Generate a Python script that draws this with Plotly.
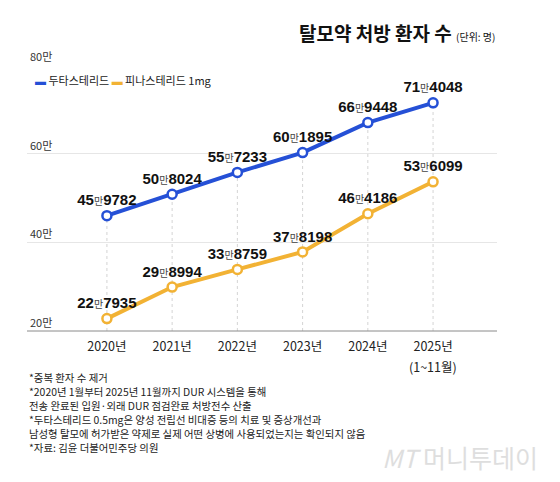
import plotly.graph_objects as go

years = ['2020년', '2021년', '2022년', '2023년', '2024년', '2025년']
last_period = '(1~11월)'
dutasteride = [459782, 508024, 557233, 601895, 669448, 714048]
finasteride = [227935, 298994, 338759, 378198, 464186, 536099]
y_ticks = [200000, 400000, 600000, 800000]
y_ticktext = ['20만', '40만', '60만', '80만']

notes = [
    '*중복 환자 수 제거',
    '*2020년 1월부터 2025년 11월까지 DUR 시스템을 통해',
    '전송 완료된 입원·외래 DUR 점검완료 처방전수 산출',
    '*두타스테리드 0.5mg은 양성 전립선 비대증 등의 치료 및 증상개선과',
    '남성형 탈모에 허가받은 약제로 실제 어떤 상병에 사용되었는지는 확인되지 않음',
    '*자료: 김윤 더불어민주당 의원',
]

BLUE = '#2550d6'
ORANGE = '#f2b234'
KR = 'Noto Sans CJK KR'
NUM = 'Liberation Sans Narrow, Liberation Sans, Arial, ' + KR

# page body has an 8px margin, so the figure is 8px smaller
W, H = 552, 474
L, R, T, B = 19, 63, 56, 151
ph = 267


def py(p):
    # reference pixel row -> paper y
    return (331 - p) / ph


def px(p):
    return (p - 27) / 470


def label(v):
    man, rest = divmod(v, 10000)
    return ("<b>%d</b><span style='font-size:10px;color:#444'>만</span><b>%04d</b>"
            % (man, rest))


xs = list(range(len(years)))

fig = go.Figure()

# dotted guide lines from the axis up to the top series
gx, gy = [], []
for i, v in zip(xs, dutasteride):
    gx += [i, i, None]
    gy += [y_ticks[0], v, None]
fig.add_trace(go.Scatter(x=gx, y=gy, mode='lines', hoverinfo='skip',
                         line=dict(color='#d4d4d4', width=1, dash='dot')))

for name, vals, col in [('두타스테리드', dutasteride, BLUE),
                        ('피나스테리드 1mg', finasteride, ORANGE)]:
    fig.add_trace(go.Scatter(
        x=xs, y=vals, mode='lines+markers+text', name=name,
        text=[label(v) for v in vals], textposition='top center',
        textfont=dict(family=NUM, size=15, color='#111'),
        line=dict(color=col, width=4),
        marker=dict(size=9, color='white', line=dict(color=col, width=2.5)),
    ))

fig.update_xaxes(range=[-1.225, 5.98], tickvals=xs, ticktext=years,
                 showgrid=False, zeroline=False, showline=False, ticks='',
                 automargin=False,
                 tickfont=dict(family=KR, size=12.5, color='#222'),
                 ticklabelstandoff=6)
fig.update_yaxes(range=[200000, 801500], tickvals=y_ticks, ticktext=y_ticktext,
                 ticklabelposition='inside top', ticklabeloverflow='allow',
                 showgrid=True, gridcolor='#e6e6e6', automargin=False,
                 gridwidth=1, zeroline=False, showline=False, ticks='',
                 tickfont=dict(family=KR, size=11, color='#333'))

# bottom axis line
fig.add_shape(type='line', xref='paper', yref='paper', x0=0, x1=1, y0=0, y1=0,
              line=dict(color='#8a8a8a', width=1))

# second line under the last year
fig.add_annotation(xref='x', yref='paper', x=xs[-1], y=py(366), xanchor='center',
                   yanchor='middle', text=last_period, showarrow=False,
                   font=dict(family=KR, size=12.5, color='#222'))

fig.add_annotation(
    xref='paper', yref='paper', x=1, y=py(33), xanchor='right', yanchor='middle',
    text="<b>탈모약 처방 환자 수</b> <span style='font-size:10px'>(단위: 명)</span>",
    showarrow=False, font=dict(family=KR, size=19, color='#111'))

# legend row
fig.add_annotation(
    xref='paper', yref='paper', x=px(33), y=py(80), xanchor='left', yanchor='middle',
    text=("<span style='color:%s'>▬</span> 두타스테리드 "
          "<span style='color:%s'>▬</span> 피나스테리드 1mg" % (BLUE, ORANGE)),
    showarrow=False, font=dict(family=KR, size=11, color='#222'))

for k, line in enumerate(notes):
    fig.add_annotation(xref='paper', yref='paper', x=0, y=py(377 + 14 * k),
                       xanchor='left', yanchor='middle', text=line, showarrow=False,
                       font=dict(family=KR, size=10.4, color='#222'))

fig.add_annotation(xref='paper', yref='paper', x=px(540), y=py(457),
                   xanchor='right', yanchor='middle', showarrow=False,
                   text="<i>MT</i> 머니투데이",
                   font=dict(family=KR, size=25, color='#dedede'))

fig.update_layout(
    width=W, height=H, margin=dict(l=L, r=R, t=T, b=B),
    paper_bgcolor='white', plot_bgcolor='white', showlegend=False,
    font=dict(family=KR, color='#222'),
)

fig.write_html('out.html')
